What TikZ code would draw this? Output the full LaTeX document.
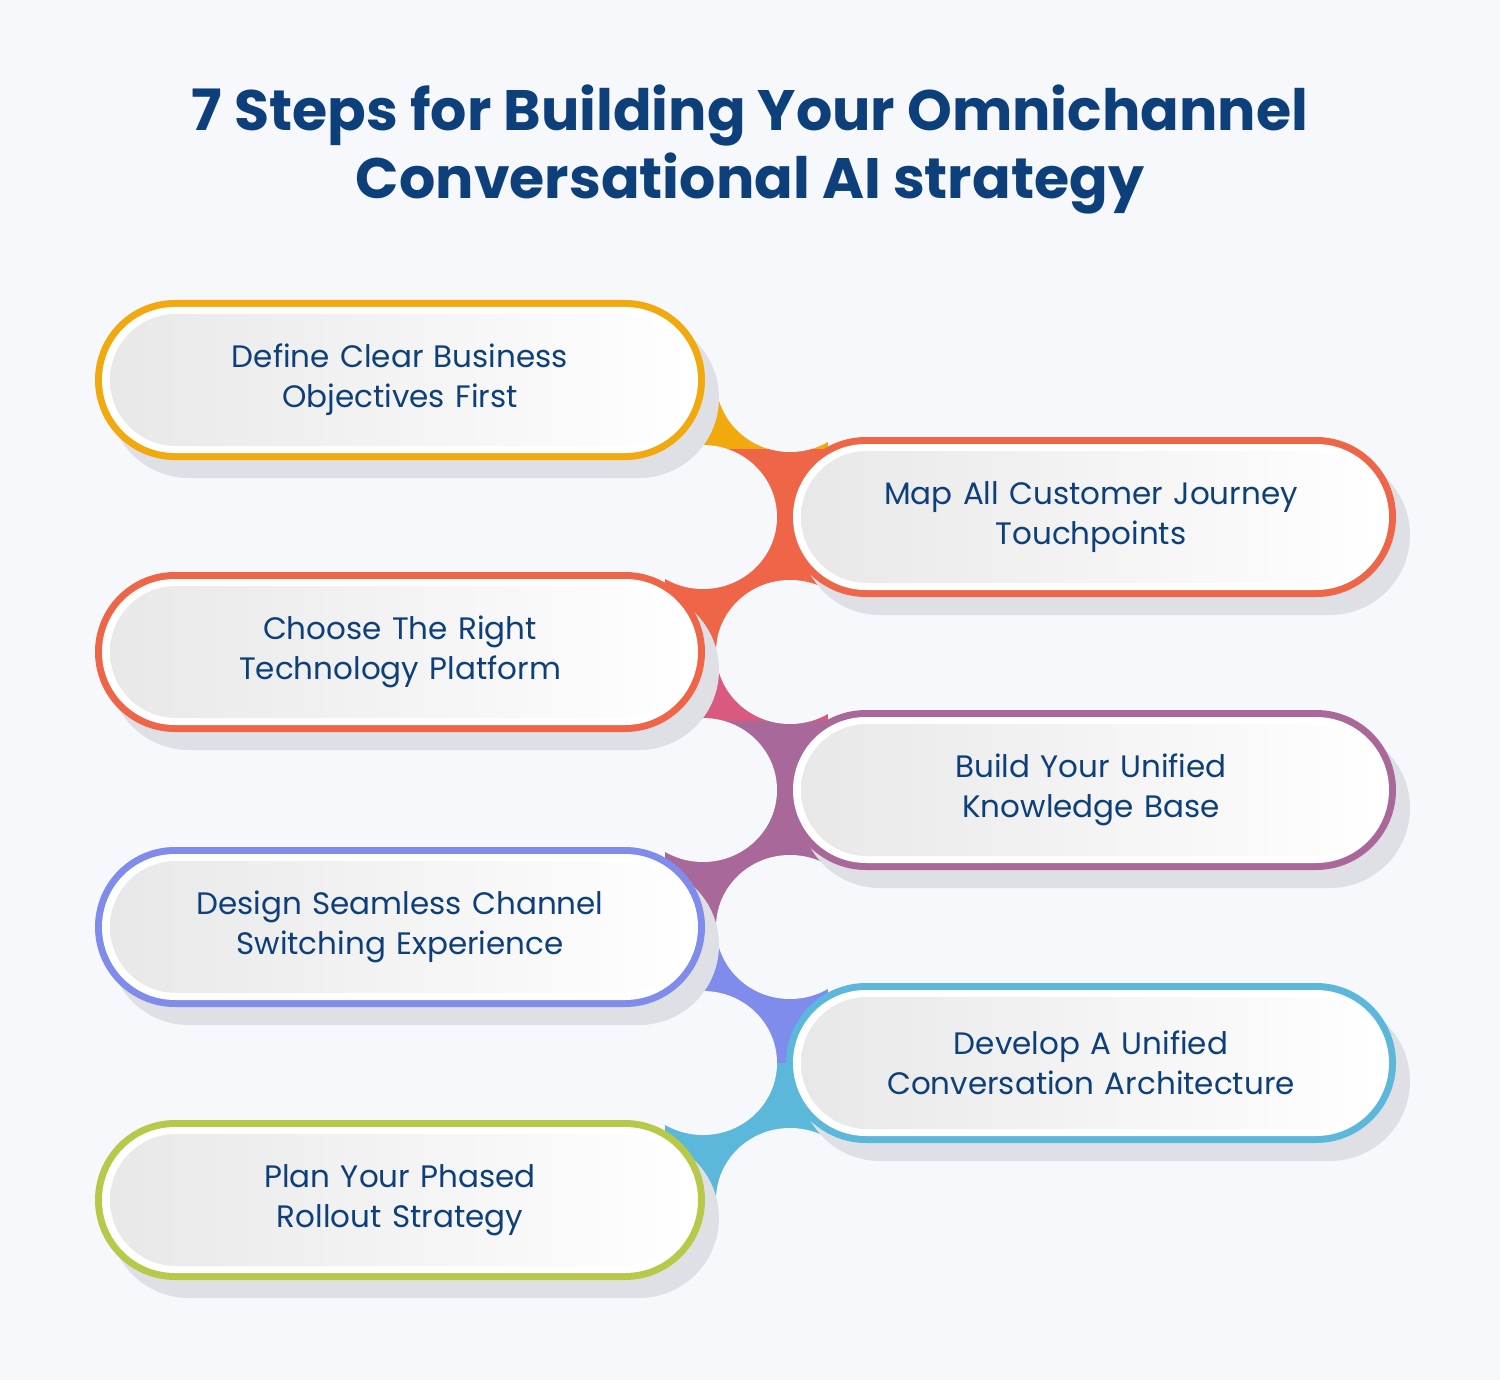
\documentclass[tikz,border=0pt]{standalone}
\usepackage{fontspec}
\setmainfont{Poppins}
\begin{document}
\definecolor{bg}{HTML}{F7F8FC}
\definecolor{tc}{HTML}{0D3F7A}
\definecolor{cA}{HTML}{F2A90E}
\definecolor{cB}{HTML}{EE6548}
\definecolor{cC}{HTML}{D95A7E}
\definecolor{cD}{HTML}{A8689A}
\definecolor{cE}{HTML}{7F8CEB}
\definecolor{cF}{HTML}{5BB8DB}
\definecolor{cG}{HTML}{B8C94A}
\definecolor{sh}{HTML}{DFE0E6}
\newcommand{\mypill}[5]{%
 \fill[sh,rounded corners=80pt] (#2-305+14,#3-80+18) rectangle (#2+305+14,#3+80+18);
 \fill[#4,rounded corners=80pt] (#2-305,#3-80) rectangle (#2+305,#3+80);
 \fill[white,rounded corners=73pt] (#2-298,#3-73) rectangle (#2+298,#3+73);
 \shade[rounded corners=66pt,left color=black!9,right color=white] (#2-290,#3-66) rectangle (#2+290,#3+66);
 \node[txt] (#1) at (#2,#3) {#5};}
\begin{tikzpicture}[x=1pt,y=-1pt,
 txt/.style={font=\fontsize{31}{40}\selectfont,text=tc,align=center,text width=560pt}]
\fill[bg] (0,0) rectangle (1500,1380);
\useasboundingbox (0,0) rectangle (1500,1380);
\node[font=\fontsize{57}{68}\selectfont\bfseries,text=tc,align=center] (title) at (750,150) {7 Steps for Building Your Omnichannel\\Conversational AI strategy};
% connectors
\foreach \ya/\yb/\ca/\cb in {380/517/cA/cB,517/652/cB/cB,652/790/cC/cD,790/927/cD/cD,927/1063/cE/cE,1063/1200/cF/cF}{
 \fill[\ca] (665,\ya) rectangle (828,{(\ya+\yb)/2});
 \fill[\cb] (665,{(\ya+\yb)/2}) rectangle (828,\yb);
}
\foreach \x/\y in {790/380,703/517,790/652,703/790,790/927,703/1063,790/1200}{
 \fill[bg] (\x,\y) ellipse (74pt and 72pt);
}
\mypill{p1}{400}{380}{cA}{Define Clear Business\\Objectives First}
\mypill{p2}{1091}{517}{cB}{Map All Customer Journey\\Touchpoints}
\mypill{p3}{400}{652}{cB}{Choose The Right\\Technology Platform}
\mypill{p4}{1091}{790}{cD}{Build Your Unified\\Knowledge Base}
\mypill{p5}{400}{927}{cE}{Design Seamless Channel\\Switching Experience}
\mypill{p6}{1091}{1063}{cF}{Develop A Unified\\Conversation Architecture}
\mypill{p7}{400}{1200}{cG}{Plan Your Phased\\Rollout Strategy}
\end{tikzpicture}
\end{document}
